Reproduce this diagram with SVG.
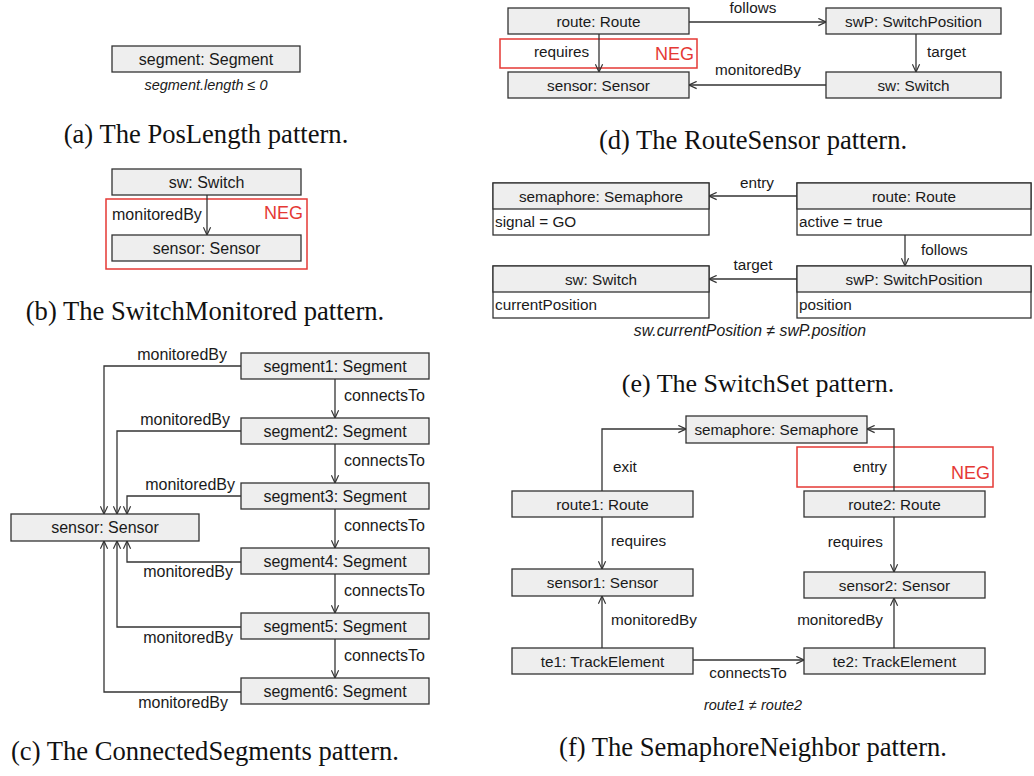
<svg xmlns="http://www.w3.org/2000/svg" width="1034" height="776" viewBox="0 0 1034 776">
  <style>
    .box { fill: #eeeeee; stroke: #333333; stroke-width: 1.3; }
    .attr { fill: #ffffff; stroke: #333333; stroke-width: 1.3; }
    .neg { fill: none; stroke: #e53935; stroke-width: 1.5; }
    .edge { fill: none; stroke: #333333; stroke-width: 1.3; marker-end: url(#arr); }
    .t { font-family: "Liberation Sans", Arial, sans-serif; font-size: 16px; fill: #1a1a1a; }
    .s { font-size: 15.3px; }
    .c { text-anchor: middle; }
    .e { text-anchor: end; }
    .it { font-style: italic; font-size: 14.5px; }
    .negt { font-family: "Liberation Sans", Arial, sans-serif; font-size: 18px; fill: #e53935; text-anchor: end; }
    .cap { font-family: "Liberation Serif", "Times New Roman", serif; font-size: 26.6px; fill: #111111; text-anchor: middle; }
  </style>
  <defs>
    <marker id="arr" viewBox="0 0 10 10" refX="9.5" refY="5" markerWidth="9" markerHeight="9" markerUnits="userSpaceOnUse" orient="auto">
      <path d="M1,1 L9.5,5 L1,9" fill="none" stroke="#333333" stroke-width="1.3"/>
    </marker>
  </defs>
  <rect width="1034" height="776" fill="#ffffff"/>

  <!-- (a) PosLength -->
  <g id="a-segment">
    <rect class="box" x="112" y="46" width="188" height="26"/>
    <text class="t c" x="206" y="65">segment: Segment</text>
  </g>
  <text class="t c it" x="206" y="90">segment.length ≤ 0</text>
  <text class="cap" x="206" y="143">(a) The PosLength pattern.</text>

  <!-- (b) SwitchMonitored -->
  <g id="b-sw">
    <rect class="box" x="112" y="169" width="189" height="26"/>
    <text class="t c" x="206.5" y="188">sw: Switch</text>
  </g>
  <g id="b-sensor">
    <rect class="box" x="112" y="235" width="189" height="26"/>
    <text class="t c" x="206.5" y="254">sensor: Sensor</text>
  </g>
  <g id="b-neg">
    <rect class="neg" x="106" y="199" width="201" height="70"/>
    <text class="negt" x="303" y="219">NEG</text>
  </g>
  <text class="cap" x="205" y="320">(b) The SwitchMonitored pattern.</text>

  <!-- (c) ConnectedSegments -->
  <g id="c-sensor">
    <rect class="box" x="11" y="514" width="188" height="27"/>
    <text class="t c" x="105" y="533">sensor: Sensor</text>
  </g>
  <g id="c-segment1">
    <rect class="box" x="241" y="353" width="188" height="26"/>
    <text class="t c" x="335" y="372">segment1: Segment</text>
  </g>
  <g id="c-segment2">
    <rect class="box" x="241" y="418" width="188" height="26"/>
    <text class="t c" x="335" y="437">segment2: Segment</text>
  </g>
  <g id="c-segment3">
    <rect class="box" x="241" y="483" width="188" height="26"/>
    <text class="t c" x="335" y="502">segment3: Segment</text>
  </g>
  <g id="c-segment4">
    <rect class="box" x="241" y="548" width="188" height="26"/>
    <text class="t c" x="335" y="567">segment4: Segment</text>
  </g>
  <g id="c-segment5">
    <rect class="box" x="241" y="613" width="188" height="26"/>
    <text class="t c" x="335" y="632">segment5: Segment</text>
  </g>
  <g id="c-segment6">
    <rect class="box" x="241" y="678" width="188" height="26"/>
    <text class="t c" x="335" y="697">segment6: Segment</text>
  </g>
  <text class="cap" x="205" y="760">(c) The ConnectedSegments pattern.</text>

  <!-- (d) RouteSensor -->
  <g id="d-route">
    <rect class="box" x="508" y="8" width="181" height="26"/>
    <text class="t s c" x="598.5" y="26.5">route: Route</text>
  </g>
  <g id="d-swP">
    <rect class="box" x="826" y="8" width="175" height="26"/>
    <text class="t s c" x="913.5" y="26.5">swP: SwitchPosition</text>
  </g>
  <g id="d-sensor">
    <rect class="box" x="508" y="72" width="181" height="26"/>
    <text class="t s c" x="598.5" y="90.5">sensor: Sensor</text>
  </g>
  <g id="d-sw">
    <rect class="box" x="826" y="72" width="175" height="26"/>
    <text class="t s c" x="913.5" y="90.5">sw: Switch</text>
  </g>
  <g id="d-neg">
    <rect class="neg" x="500" y="39" width="197" height="29"/>
    <text class="negt" x="694" y="60">NEG</text>
  </g>
  <text class="cap" x="753" y="149">(d) The RouteSensor pattern.</text>

  <!-- (e) SwitchSet -->
  <g id="e-semaphore">
    <rect class="attr" x="493" y="183" width="216" height="52"/>
    <rect class="box" x="493" y="183" width="216" height="26"/>
    <text class="t s c" x="601" y="201.5">semaphore: Semaphore</text>
    <text class="t s" x="495" y="227">signal = GO</text>
  </g>
  <g id="e-route">
    <rect class="attr" x="797" y="183" width="234" height="52"/>
    <rect class="box" x="797" y="183" width="234" height="26"/>
    <text class="t s c" x="914" y="201.5">route: Route</text>
    <text class="t s" x="799" y="227">active = true</text>
  </g>
  <g id="e-sw">
    <rect class="attr" x="493" y="266" width="216" height="52"/>
    <rect class="box" x="493" y="266" width="216" height="26"/>
    <text class="t s c" x="601" y="284.5">sw: Switch</text>
    <text class="t s" x="495" y="310">currentPosition</text>
  </g>
  <g id="e-swP">
    <rect class="attr" x="797" y="266" width="234" height="52"/>
    <rect class="box" x="797" y="266" width="234" height="26"/>
    <text class="t s c" x="914" y="284.5">swP: SwitchPosition</text>
    <text class="t s" x="799" y="310">position</text>
  </g>
  <text class="t c it" x="750" y="336" style="font-size:15.8px">sw.currentPosition ≠ swP.position</text>
  <text class="cap" x="758" y="392" style="font-size:26px">(e) The SwitchSet pattern.</text>

  <!-- (f) SemaphoreNeighbor -->
  <g id="f-semaphore">
    <rect class="box" x="686" y="416" width="181" height="27"/>
    <text class="t s c" x="776.5" y="435">semaphore: Semaphore</text>
  </g>
  <g id="f-route1">
    <rect class="box" x="512" y="491" width="181" height="26"/>
    <text class="t s c" x="602.5" y="509.5">route1: Route</text>
  </g>
  <g id="f-route2">
    <rect class="box" x="804" y="491" width="181" height="26"/>
    <text class="t s c" x="894.5" y="509.5">route2: Route</text>
  </g>
  <g id="f-sensor1">
    <rect class="box" x="512" y="569" width="181" height="27"/>
    <text class="t s c" x="602.5" y="588">sensor1: Sensor</text>
  </g>
  <g id="f-sensor2">
    <rect class="box" x="804" y="572" width="181" height="26"/>
    <text class="t s c" x="894.5" y="590.5">sensor2: Sensor</text>
  </g>
  <g id="f-te1">
    <rect class="box" x="512" y="648" width="181" height="26"/>
    <text class="t s c" x="602.5" y="666.5">te1: TrackElement</text>
  </g>
  <g id="f-te2">
    <rect class="box" x="804" y="648" width="181" height="26"/>
    <text class="t s c" x="894.5" y="666.5">te2: TrackElement</text>
  </g>
  <g id="f-neg">
    <rect class="neg" x="797" y="447" width="196" height="40"/>
    <text class="negt" x="990" y="479">NEG</text>
  </g>
  <text class="t c it" x="753" y="710">route1 ≠ route2</text>
  <text class="cap" x="753" y="756">(f) The SemaphoreNeighbor pattern.</text>

  <!-- connectors with their labels -->
  <g id="connectors">
    <!-- (b) -->
    <path class="edge" d="M207,195 V235"/>
    <text class="t" x="112" y="220">monitoredBy</text>

    <!-- (c) connectsTo chain -->
    <path class="edge" d="M335,379 V418"/>
    <path class="edge" d="M335,444 V483"/>
    <path class="edge" d="M335,509 V548"/>
    <path class="edge" d="M335,574 V613"/>
    <path class="edge" d="M335,639 V678"/>
    <text class="t" x="344" y="401">connectsTo</text>
    <text class="t" x="344" y="466">connectsTo</text>
    <text class="t" x="344" y="531">connectsTo</text>
    <text class="t" x="344" y="596">connectsTo</text>
    <text class="t" x="344" y="661">connectsTo</text>
    <!-- (c) monitoredBy into sensor -->
    <path class="edge" d="M241,366 H104 V514"/>
    <path class="edge" d="M241,431 H117 V514"/>
    <path class="edge" d="M241,496 H127 V514"/>
    <path class="edge" d="M241,562 H127 V541"/>
    <path class="edge" d="M241,627 H117 V541"/>
    <path class="edge" d="M241,692 H104 V541"/>
    <text class="t e" x="227" y="360">monitoredBy</text>
    <text class="t e" x="230" y="425">monitoredBy</text>
    <text class="t e" x="235" y="490">monitoredBy</text>
    <text class="t e" x="233" y="577">monitoredBy</text>
    <text class="t e" x="233" y="643">monitoredBy</text>
    <text class="t e" x="228" y="708">monitoredBy</text>

    <!-- (d) -->
    <path class="edge" d="M689,22 H826"/>
    <text class="t s c" x="753" y="13">follows</text>
    <path class="edge" d="M599,34 V72"/>
    <text class="t s" x="534" y="57">requires</text>
    <path class="edge" d="M916,34 V72"/>
    <text class="t s" x="927" y="57">target</text>
    <path class="edge" d="M826,85 H689"/>
    <text class="t s c" x="758" y="75">monitoredBy</text>

    <!-- (e) -->
    <path class="edge" d="M797,196 H709"/>
    <text class="t s c" x="757" y="188">entry</text>
    <path class="edge" d="M905,235 V266"/>
    <text class="t s" x="921" y="255">follows</text>
    <path class="edge" d="M797,279 H709"/>
    <text class="t s c" x="753" y="270">target</text>

    <!-- (f) -->
    <path class="edge" d="M602,491 V429 H686"/>
    <text class="t s" x="613" y="472">exit</text>
    <path class="edge" d="M894,491 V429 H867"/>
    <text class="t s e" x="887" y="472">entry</text>
    <path class="edge" d="M602,517 V569"/>
    <text class="t s" x="611" y="546">requires</text>
    <path class="edge" d="M894,517 V572"/>
    <text class="t s e" x="883" y="547">requires</text>
    <path class="edge" d="M602,648 V596"/>
    <text class="t s" x="611" y="625">monitoredBy</text>
    <path class="edge" d="M894,648 V598"/>
    <text class="t s e" x="883" y="625">monitoredBy</text>
    <path class="edge" d="M693,660 H804"/>
    <text class="t s c" x="748" y="678">connectsTo</text>
  </g>
</svg>
